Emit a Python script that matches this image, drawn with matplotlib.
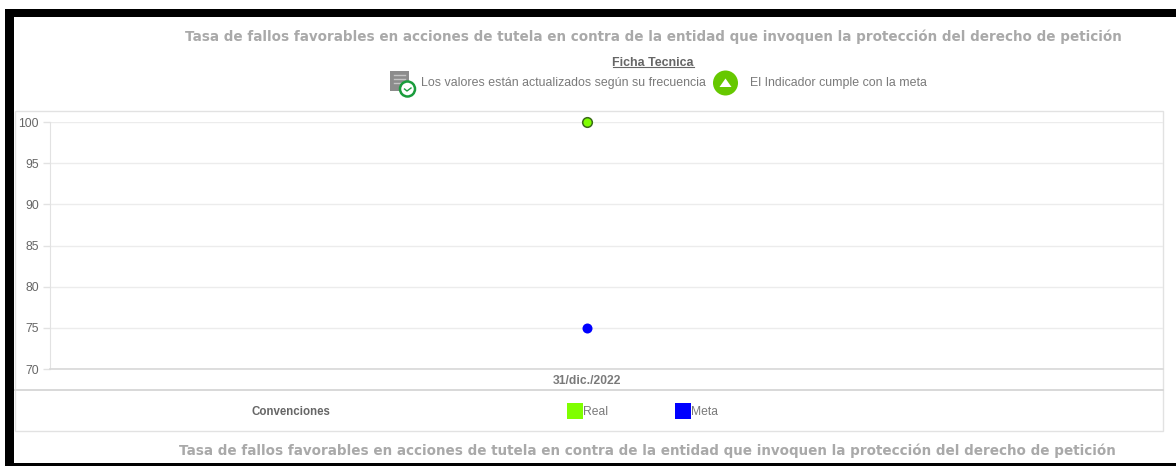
import matplotlib
matplotlib.use('Agg')
from matplotlib import pyplot as plt
from matplotlib.patches import Rectangle, Circle, Polygon

plt.rcParams['font.family'] = ['Liberation Sans', 'DejaVu Sans']

W, H = 1176, 466

title = 'Tasa de fallos favorables en acciones de tutela en contra de la entidad que invoquen la protección del derecho de petición'
dates = ['31/dic./2022']
real = [100]
meta = [75]
y_ticks = [70, 75, 80, 85, 90, 95, 100]

GRID = '#ececec'
BORDER = '#e2e2e2'
TEXT = '#7a7a7a'
TITLE = '#a9a9a9'
GREEN = '#7fff00'
BLUE = '#0000ff'
ICON_GREEN = '#66c800'


def box(bg, x0, y0, x1, y1, **kw):
	bg.add_patch(Rectangle((x0, y0), x1 - x0, y1 - y0, **kw))


fig = plt.figure(figsize=(W / 100, H / 100), dpi=100)

# background layer in pixel coordinates
bg = fig.add_axes([0, 0, 1, 1])
bg.set_xlim(0, W)
bg.set_ylim(H, 0)
bg.axis('off')

# black frame of the screenshot
box(bg, 5, 9, W, 17, color='black', lw=0)
box(bg, 5, 9, 14, H, color='black', lw=0)
box(bg, 5, 463, W, H, color='black', lw=0)

# panel borders
box(bg, 15, 111, 1163, 431, fill=False, ec=BORDER, lw=1)
bg.plot([15, 1163], [390, 390], color='#d8d8d8', lw=1.4)

# header
bg.text(653, 37, title, ha='center', va='center', fontsize=9.74, fontweight='bold',
	color=TITLE, family='DejaVu Sans')
bg.text(653, 62.5, 'Ficha Tecnica', ha='center', va='center', fontsize=8.9, fontweight='bold', color='#666666')
bg.plot([613, 694], [67, 67], color='#666666', lw=0.8)

# document icon with clock
box(bg, 390, 71, 409, 91, color='#8c8c8c', lw=0)
bg.plot([394, 405], [75, 75], color='#c4c4c4', lw=1)
bg.plot([394, 405], [79, 79], color='#c4c4c4', lw=1)
bg.plot([394, 405], [83, 83], color='#c4c4c4', lw=1)
bg.add_patch(Circle((407.5, 89), 7.5, fc='white', ec='#1a9c3c', lw=1.8, zorder=3))
bg.plot([404.5, 407, 411], [89, 91, 88], color='#1a9c3c', lw=1, zorder=4)
bg.text(421, 83, 'Los valores están actualizados según su frecuencia', ha='left', va='center',
	fontsize=8.95, color=TEXT)

# indicator icon
bg.add_patch(Circle((725.5, 83), 12.5, color=ICON_GREEN, lw=0))
bg.add_patch(Polygon([(719.5, 87), (731.5, 87), (725.5, 78.5)], color='white', lw=0))
bg.text(750, 83, 'El Indicador cumple con la meta', ha='left', va='center', fontsize=8.95, color=TEXT)

# legend row
bg.text(291, 412, 'Convenciones', ha='center', va='center', fontsize=8.3, fontweight='bold', color='#666666')
box(bg, 567, 403, 583, 419, color=GREEN, lw=0)
bg.text(583, 412, 'Real', ha='left', va='center', fontsize=8.7, color=TEXT)
box(bg, 675, 403, 691, 419, color=BLUE, lw=0)
bg.text(691, 412, 'Meta', ha='left', va='center', fontsize=8.7, color=TEXT)

# footer title
bg.text(647, 451, title, ha='center', va='center', fontsize=9.74, fontweight='bold',
	color=TITLE, family='DejaVu Sans')

# chart
ax = fig.add_axes([50 / W, 1 - 369 / H, (1163 - 50) / W, (369 - 122) / H])
ax.patch.set_alpha(0)
ax.set_ylim(70, 100)
ax.set_yticks(y_ticks)
ax.set_xticks([0])
ax.set_xticklabels(dates, fontsize=8.7, color=TEXT, fontweight='bold')
ax.tick_params(axis='y', labelsize=8.8, labelcolor='#666666', color=BORDER, length=5, width=1, pad=3)
ax.tick_params(axis='x', length=0, pad=4)
ax.grid(axis='y', color=GRID, lw=1)
ax.set_axisbelow(True)
for side in ['top', 'right']:
	ax.spines[side].set_visible(False)
ax.spines['left'].set_color(BORDER)
ax.spines['bottom'].set_color('#d8d8d8')
ax.spines['bottom'].set_linewidth(1.2)

# the single date does not sit in the middle of the axes, so shift the x limits
ax.set_xlim(-0.5 + 19.5 / 1113, 0.5 + 19.5 / 1113)
ax.scatter(range(len(dates)), real, s=48, color=GREEN, edgecolors='#3a6a18', linewidths=1.1, clip_on=False, zorder=5)
ax.scatter(range(len(dates)), meta, s=52, color=BLUE, linewidths=0, clip_on=False, zorder=5)

plt.savefig('out.png', dpi=100)
